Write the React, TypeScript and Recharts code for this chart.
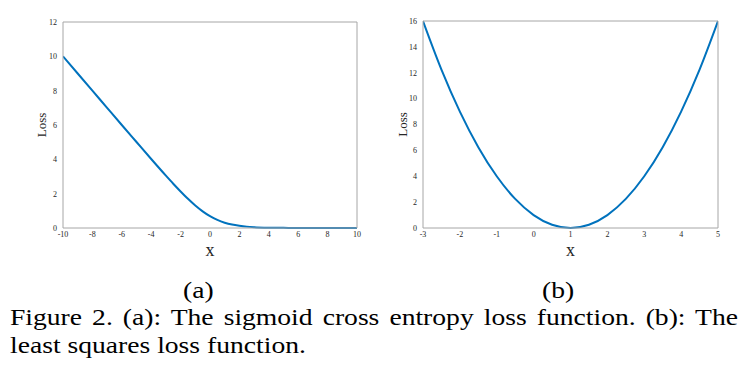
import React from 'react';
import { LineChart, Line, XAxis, YAxis } from 'recharts';

// (a) sigmoid cross entropy loss
const sigX = [-10, -9, -8, -7, -6, -5, -4, -3, -2.5, -2, -1.5, -1, -0.5, 0, 0.5, 1, 1.5, 2, 2.5, 3, 4, 5, 6, 7, 8, 9, 10];
const sigLoss = [10.0, 9.0, 8.0, 7.0, 6.0, 5.01, 4.02, 3.05, 2.58, 2.13, 1.7, 1.31, 0.97, 0.69, 0.47, 0.31, 0.2, 0.13, 0.08, 0.05, 0.02, 0.01, 0.0, 0.0, 0.0, 0.0, 0.0];
const sigXTicks = [-10, -8, -6, -4, -2, 0, 2, 4, 6, 8, 10];
const sigYTicks = [0, 2, 4, 6, 8, 10, 12];

// (b) least squares loss
const lsX = [-3, -2.5, -2, -1.5, -1, -0.5, 0, 0.5, 1, 1.5, 2, 2.5, 3, 3.5, 4, 4.5, 5];
const lsLoss = [16, 12.25, 9, 6.25, 4, 2.25, 1, 0.25, 0, 0.25, 1, 2.25, 4, 6.25, 9, 12.25, 16];
const lsXTicks = [-3, -2, -1, 0, 1, 2, 3, 4, 5];
const lsYTicks = [0, 2, 4, 6, 8, 10, 12, 14, 16];

const sigData = sigX.map((x, i) => ({ x, loss: sigLoss[i] }));
const lsData = lsX.map((x, i) => ({ x, loss: lsLoss[i] }));

const SERIF = '"Liberation Serif", "DejaVu Serif", serif';
const AXIS = '#a6a6a6';
const tickStyle = { fontSize: 8, fill: '#262626', fontFamily: SERIF };
const STRETCH = 1.2;

interface PanelProps {
    data: { x: number; loss: number }[];
    xDomain: [number, number];
    yDomain: [number, number];
    xTicks: number[];
    yTicks: number[];
    width: number;
    yAxisWidth: number;
    margin: { top: number; right: number; left: number; bottom: number };
    lossDx: number;
}

const Panel: React.FC<PanelProps> = ({ data, xDomain, yDomain, xTicks, yTicks, width, yAxisWidth, margin, lossDx }) => {
    return (
        <LineChart width={width} height={260} data={data} margin={margin}>
            {/* labelled bottom / left axes */}
            <XAxis
                dataKey="x"
                type="number"
                domain={xDomain}
                ticks={xTicks}
                allowDataOverflow
                height={32}
                stroke={AXIS}
                tickLine={false}
                tickSize={0}
                tickMargin={3}
                tick={tickStyle}
                interval={0}
                label={{ value: 'x', position: 'insideBottom', offset: 4, style: { fontSize: 18, fontFamily: SERIF, fill: '#262626' } }}
            />
            <YAxis
                type="number"
                domain={yDomain}
                ticks={yTicks}
                width={yAxisWidth}
                stroke={AXIS}
                tickLine={false}
                tickSize={0}
                tickMargin={6}
                tick={tickStyle}
                interval={0}
                label={{ value: 'Loss', angle: -90, position: 'center', dx: lossDx, style: { fontSize: 13, fontFamily: SERIF, fill: '#262626' } }}
            />
            {/* inward tick marks on all four sides */}
            <XAxis xAxisId="bt" dataKey="x" type="number" domain={xDomain} ticks={xTicks} orientation="bottom" mirror tick={false} axisLine={false} stroke={AXIS} tickSize={3} />
            <XAxis xAxisId="top" dataKey="x" type="number" domain={xDomain} ticks={xTicks} orientation="top" mirror tick={false} stroke={AXIS} tickSize={3} />
            <YAxis yAxisId="lt" type="number" domain={yDomain} ticks={yTicks} orientation="left" mirror tick={false} axisLine={false} stroke={AXIS} tickSize={3} />
            <YAxis yAxisId="right" type="number" domain={yDomain} ticks={yTicks} orientation="right" mirror tick={false} stroke={AXIS} tickSize={3} />
            <Line
                type="monotone"
                dataKey="loss"
                stroke="#0072bd"
                strokeWidth={2}
                dot={false}
                isAnimationActive={false}
            />
        </LineChart>
    );
};

const stretched: React.CSSProperties = {
    position: 'absolute',
    fontSize: 23,
    lineHeight: '28px',
    whiteSpace: 'nowrap',
    transform: `scaleX(${STRETCH})`,
    transformOrigin: 'left top',
};

const App: React.FC = () => {
    return (
        <div style={{ position: 'absolute', left: 0, top: 0, width: 749, height: 372, background: '#fff', fontFamily: SERIF, color: '#000' }}>
            <div style={{ position: 'absolute', left: 0, top: 0 }}>
                <Panel
                    data={sigData}
                    xDomain={[-10, 10]}
                    yDomain={[0, 12]}
                    xTicks={sigXTicks}
                    yTicks={sigYTicks}
                    width={370}
                    yAxisWidth={63}
                    margin={{ top: 22, right: 13, left: 0, bottom: 0 }}
                    lossDx={10}
                />
            </div>
            <div style={{ position: 'absolute', left: 375, top: 0 }}>
                <Panel
                    data={lsData}
                    xDomain={[-3, 5]}
                    yDomain={[0, 16]}
                    xTicks={lsXTicks}
                    yTicks={lsYTicks}
                    width={374}
                    yAxisWidth={48}
                    margin={{ top: 21, right: 31, left: 0, bottom: 0 }}
                    lossDx={3}
                />
            </div>
            <div style={{ ...stretched, left: 183, top: 277 }}>(a)</div>
            <div style={{ ...stretched, left: 542, top: 277 }}>(b)</div>
            <div
                style={{
                    ...stretched,
                    left: 10,
                    top: 304,
                    width: 728 / STRETCH,
                    whiteSpace: 'normal',
                    textAlign: 'justify',
                    textAlignLast: 'justify',
                }}
            >
                Figure 2. (a): The sigmoid cross entropy loss function. (b): The
            </div>
            <div style={{ ...stretched, left: 10, top: 332 }}>least squares loss function.</div>
        </div>
    );
};

export default App;
